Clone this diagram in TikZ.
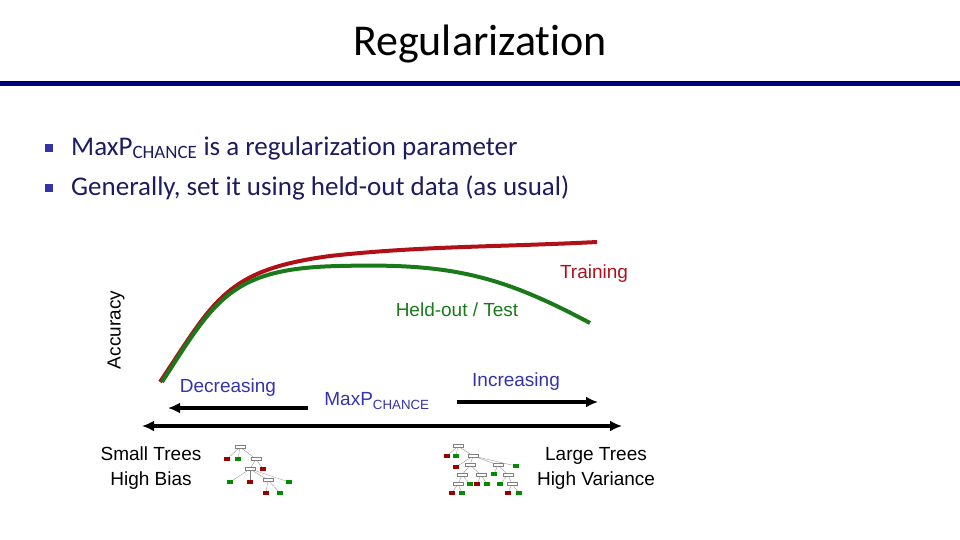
\documentclass[tikz,border=0pt]{standalone}
\usepackage{fontspec}
\setmainfont{Carlito}[Ligatures={NoCommon,NoRare,NoContextual}]
\newfontfamily\arialf{Liberation Sans}
\begin{document}
\begin{tikzpicture}[x=1pt,y=-1pt,
  arr/.style={line width=4pt,-{Latex[length=12pt,width=11pt]}},
  tb/.style={draw=gray,fill=white,line width=0.3pt,minimum width=10pt,minimum height=3pt,inner sep=0pt},
  rb/.style={fill=red!60!black,minimum width=6pt,minimum height=4pt,inner sep=0pt},
  gb/.style={fill=green!55!black,minimum width=6pt,minimum height=4pt,inner sep=0pt},
  tl/.style={gray,line width=0.3pt},
  af/.style={font=\arialf\fontsize{19}{22}\selectfont}]
\usetikzlibrary{arrows.meta}
\definecolor{navytext}{HTML}{1C1C5E}
\definecolor{barblue}{HTML}{000080}
\definecolor{lblue}{HTML}{3333AA}
\definecolor{cred}{HTML}{B01018}
\definecolor{cgreen}{HTML}{1A7A1A}
\useasboundingbox (0,0) rectangle (960,540);
\node (title) at (480,44) {\fontsize{44}{48}\selectfont Regularization};
\fill[barblue] (0,81) rectangle (960,86);
\draw[black,line width=0.5pt] (0,81) -- (960,81);
\node[anchor=west,text=navytext,inner sep=0pt] (b1) at (71,148) {\fontsize{27}{30}\selectfont MaxP\textsubscript{CHANCE} is a regularization parameter};
\node[anchor=west,text=navytext,inner sep=0pt] (b2) at (71,188) {\fontsize{27}{30}\selectfont Generally, set it using held-out data (as usual)};
\fill[lblue] (45,144) rectangle (53,152);
\fill[lblue] (45,184) rectangle (53,192);
% curves
\draw[cred,line width=4pt] (160,382) .. controls (215,300) and (225,270) .. (330,256) .. controls (420,246) and (500,247) .. (597,242);
\draw[cgreen,line width=4pt] (162,382) .. controls (215,300) and (230,268) .. (340,266) .. controls (450,263) and (500,275) .. (590,323);
\node[text=cred,af] (tr) at (594,274) {Training};
\node[text=cgreen,af] (ho) at (457,310) {Held-out / Test};
\node[rotate=90,af] (acc) at (116,330) {Accuracy};
% axis arrows
\coordinate (dL) at (168,408); \coordinate (dR) at (308,408);
\coordinate (iL) at (457,402); \coordinate (iR) at (598,402);
\coordinate (aL) at (142,426); \coordinate (aR) at (622,426);
\draw[arr] (dR) -- (dL);
\draw[arr] (iL) -- (iR);
\draw[line width=4pt,{Latex[length=12pt,width=11pt]}-{Latex[length=12pt,width=11pt]}] (aL) -- (aR);
\node[text=lblue,af] (dec) at (228,388) {Decreasing};
\node[text=lblue,af] (inc) at (516,382) {Increasing};
\node[text=lblue,af] (mp) at (377,401) {MaxP\textsubscript{CHANCE}};
\node[af,align=center] (st) at (151,468) {Small Trees\\[3pt]High Bias};
\node[af,align=center] (lt) at (596,468) {Large Trees\\[3pt]High Variance};
% small tree
\node[tb] (s0) at (240,447) {};
\node[rb] (s1) at (227,459) {};
\node[gb] (s2) at (238,459) {};
\node[tb] (s3) at (256,459) {};
\node[tb] (s4) at (250,469) {};
\node[rb] (s5) at (263,469) {};
\node[gb] (s6) at (230,482) {};
\node[rb] (s7) at (250,482) {};
\node[tb] (s8) at (268,480) {};
\node[gb] (s9) at (289,482) {};
\node[rb] (s10) at (266,493) {};
\node[gb] (s11) at (280,493) {};
\foreach \a/\b in {s0/s1,s0/s2,s0/s3,s3/s4,s3/s5,s4/s6,s4/s7,s4/s8,s4/s9,s8/s10,s8/s11}
  \draw[tl] (\a) -- (\b);
% large tree
\node[tb] (l0) at (458,446) {};
\node[rb] (l1) at (447,456) {};
\node[gb] (l2) at (456,456) {};
\node[tb] (l3) at (473,456) {};
\node[rb] (l4) at (456,467) {};
\node[tb] (l5) at (470,465) {};
\node[tb] (l6) at (498,465) {};
\node[gb] (l7) at (516,466) {};
\node[tb] (l8) at (462,475) {};
\node[tb] (l9) at (481,475) {};
\node[gb] (l10) at (494,474) {};
\node[tb] (l11) at (508,475) {};
\node[gb] (l12) at (470,484) {};
\node[rb] (l13) at (477,484) {};
\node[gb] (l14) at (487,484) {};
\node[gb] (l15) at (500,484) {};
\node[tb] (l16) at (512,484) {};
\node[tb] (l17) at (458,484) {};
\node[rb] (l18) at (452,493) {};
\node[gb] (l19) at (462,493) {};
\node[rb] (l20) at (508,493) {};
\node[gb] (l21) at (519,493) {};
\foreach \a/\b in {l0/l1,l0/l2,l0/l3,l3/l4,l3/l5,l3/l6,l3/l7,l5/l8,l5/l9,l6/l10,l6/l11,l8/l17,l8/l12,l9/l13,l9/l14,l11/l15,l11/l16,l17/l18,l17/l19,l16/l20,l16/l21}
  \draw[tl] (\a) -- (\b);
\end{tikzpicture}
\end{document}
